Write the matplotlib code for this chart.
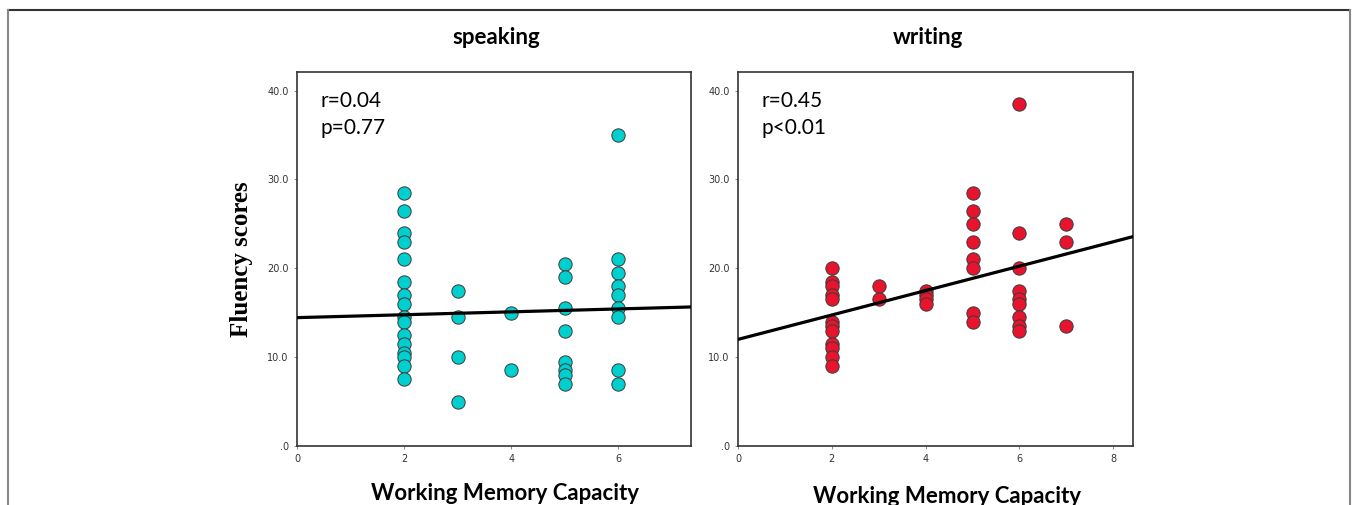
import matplotlib.pyplot as plt
import numpy as np
from matplotlib.lines import Line2D

# ---- data ----
speak_wm = [2] * 16 + [3] * 4 + [4] * 2 + [5] * 8 + [6] * 9
speak_fluency = [
    28.5, 26.5, 24, 23, 21, 18.5, 17, 16, 14.5, 14, 12.5, 11.5, 10.5, 10, 9, 7.5,
    17.5, 14.5, 10, 5,
    15, 8.5,
    20.5, 19, 15.5, 13, 9.5, 8.5, 8, 7,
    35, 21, 19.5, 18, 17, 15.5, 14.5, 8.5, 7,
]
write_wm = [2] * 12 + [3] * 2 + [4] * 4 + [5] * 8 + [6] * 9 + [7] * 3
write_fluency = [
    20, 18.5, 18, 17, 16.5, 14, 13.5, 13, 11.5, 11, 10, 9,
    18, 16.5,
    17.5, 17, 16.5, 16,
    28.5, 26.5, 25, 23, 21, 20, 15, 14,
    38.5, 24, 20, 17.5, 16.5, 16, 14.5, 13.5, 13,
    25, 23, 13.5,
]

# fit lines as drawn (intercept, slope)
speak_fit = (14.45, 0.163)
write_fit = (12.0, 1.374)

speak_stats = "r=0.04\np=0.77"
write_stats = "r=0.45\np<0.01"

y_ticks = [0, 10, 20, 30, 40]
y_ticklabels = [".0", "10.0", "20.0", "30.0", "40.0"]
speak_xticks = [0, 2, 4, 6]
write_xticks = [0, 2, 4, 6, 8]

W, H = 1358, 505
fig = plt.figure(figsize=(W / 100, H / 100), dpi=100)
fig.patch.set_facecolor("white")

# outer frame of the figure panel
fig.add_artist(Line2D([8 / W, 1350 / W], [1 - 9.5 / H, 1 - 9.5 / H],
                      transform=fig.transFigure, color="#333333", lw=1.5))
fig.add_artist(Line2D([8 / W, 8 / W], [1 - 9.5 / H, 0], transform=fig.transFigure,
                      color="#888888", lw=1.5))
fig.add_artist(Line2D([1350 / W, 1350 / W], [1 - 9.5 / H, 0], transform=fig.transFigure,
                      color="#888888", lw=1.5))

ax1 = fig.add_axes([297 / W, 1 - 446 / H, 394 / W, 374 / H])
ax2 = fig.add_axes([738 / W, 1 - 446 / H, 395 / W, 374 / H])

panels = [
    (ax1, speak_wm, speak_fluency, speak_fit, speak_stats, "#00cfd0",
     speak_xticks, 7.36, "speaking", 0.505, -0.100),
    (ax2, write_wm, write_fluency, write_fit, write_stats, "#e8142d",
     write_xticks, 8.42, "writing", 0.481, -0.108),
]

for ax, xs, ys, fit, stats, color, xticks, xmax, title, tx, ly in panels:
    ax.scatter(xs, ys, s=92, color=color, edgecolors="#3a3a3a",
               linewidths=0.7, zorder=3)
    xl = np.array([0, xmax])
    ax.plot(xl, fit[0] + fit[1] * xl, color="black", lw=2.3, zorder=4)
    ax.set_xlim(0, xmax)
    ax.set_ylim(0, 42.1)
    ax.set_yticks(y_ticks)
    ax.set_yticklabels(y_ticklabels)
    ax.set_xticks(xticks)
    ax.tick_params(labelsize=7, length=2, width=0.6, color="#777777",
                   labelcolor="#333333", pad=4)
    for sp in ax.spines.values():
        sp.set_color("#333333")
        sp.set_linewidth(1.2)
    ax.text(0.06, 0.95, stats, transform=ax.transAxes, ha="left", va="top",
            fontsize=15, family="Lato", linespacing=1.45)
    t = ax.set_title(title, fontsize=16, fontweight="bold", family="Lato", pad=20)
    t.set_x(tx)
    ax.set_xlabel("Working Memory Capacity", fontsize=16, fontweight="bold",
                  family="Lato")
    ax.xaxis.set_label_coords(0.528, ly)

ax1.set_ylabel("Fluency scores", fontsize=18, fontweight="bold",
               family="Liberation Serif", labelpad=10)

fig.savefig("out.png", dpi=100)
